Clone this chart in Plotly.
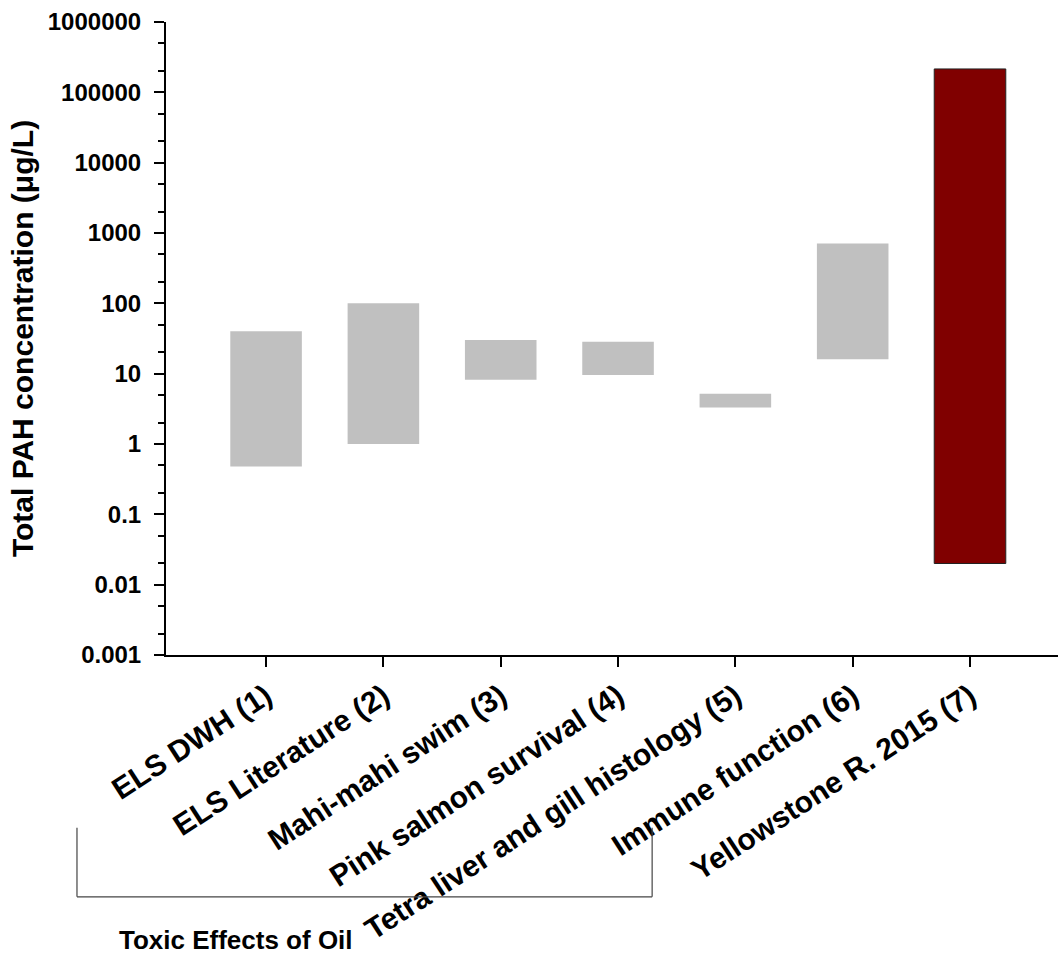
import plotly.graph_objects as go

categories = ["ELS DWH (1)", "ELS Literature (2)", "Mahi-mahi swim (3)",
              "Pink salmon survival (4)", "Tetra liver and gill histology (5)",
              "Immune function (6)", "Yellowstone R. 2015 (7)"]
low_values = [0.48, 1.0, 8.2, 9.6, 3.3, 16, 0.02]
high_values = [40, 100, 30, 28.5, 5.2, 710, 215000]
bar_colors = ["#C0C0C0"] * 6 + ["#800000"]
line_colors = ["#C0C0C0"] * 6 + ["#222222"]
line_widths = [0] * 6 + [1]

ytick_vals = [0.001, 0.01, 0.1, 1, 10, 100, 1000, 10000, 100000, 1000000]
ytick_text = ["0.001", "0.01", "0.1", "1", "10", "100", "1000", "10000", "100000", "1000000"]

FONT = "Arial, Liberation Sans, sans-serif"

fig = go.Figure()
fig.add_trace(go.Bar(
    x=list(range(len(categories))),
    y=[h - l for h, l in zip(high_values, low_values)],
    base=low_values,
    width=0.61,
    marker=dict(color=bar_colors, line=dict(color=line_colors, width=line_widths)),
    showlegend=False,
))

fig.update_layout(
    width=1058, height=971,
    margin=dict(l=166, r=0, t=22, b=316, autoexpand=False),
    paper_bgcolor="white", plot_bgcolor="white",
    font=dict(family=FONT, color="black", size=22),
    xaxis=dict(
        range=[-0.853, 6.75],
        tickvals=list(range(len(categories))),
        ticktext=[f"<b>{c}</b>" for c in categories],
        tickangle=-33,
        ticks="outside", ticklen=10, tickwidth=2, tickcolor="black",
        showline=True, linecolor="black", linewidth=2,
        showgrid=False, zeroline=False,
        automargin=False,
        tickfont=dict(size=30, family=FONT),
    ),
    yaxis=dict(
        type="log",
        range=[-3, 6],
        tickvals=ytick_vals,
        ticktext=[f"<b>{t}</b>" for t in ytick_text],
        ticks="outside", ticklen=10, tickwidth=2, tickcolor="black",
        ticklabelstandoff=8,
        minor=dict(ticks="outside", ticklen=6, tickwidth=1.5, tickcolor="black", showgrid=False),
        showline=True, linecolor="black", linewidth=2,
        showgrid=False, zeroline=False,
        automargin=False,
        tickfont=dict(size=24, family=FONT),
        title=dict(text="<b>Total PAH concentration (μg/L)</b>", font=dict(size=30, family=FONT), standoff=5),
    ),
    shapes=[
        dict(type="line", xref="paper", yref="paper", x0=-0.0998, x1=-0.0998, y0=-0.273, y1=-0.382,
             line=dict(color="#444444", width=1.2)),
        dict(type="line", xref="paper", yref="paper", x0=0.545, x1=0.545, y0=-0.273, y1=-0.382,
             line=dict(color="#444444", width=1.2)),
        dict(type="line", xref="paper", yref="paper", x0=-0.0998, x1=0.545, y0=-0.382, y1=-0.382,
             line=dict(color="#444444", width=1.2)),
    ],
    annotations=[
        dict(text="<b>Toxic Effects of Oil</b>", xref="paper", yref="paper",
             x=(236 - 166) / 892, y=-0.45, showarrow=False,
             xanchor="center", yanchor="middle", font=dict(size=26, family=FONT)),
    ],
)

fig.write_html("out.html", config={"displayModeBar": False},
               post_script="document.body.style.margin='0';document.body.style.overflow='hidden';")
